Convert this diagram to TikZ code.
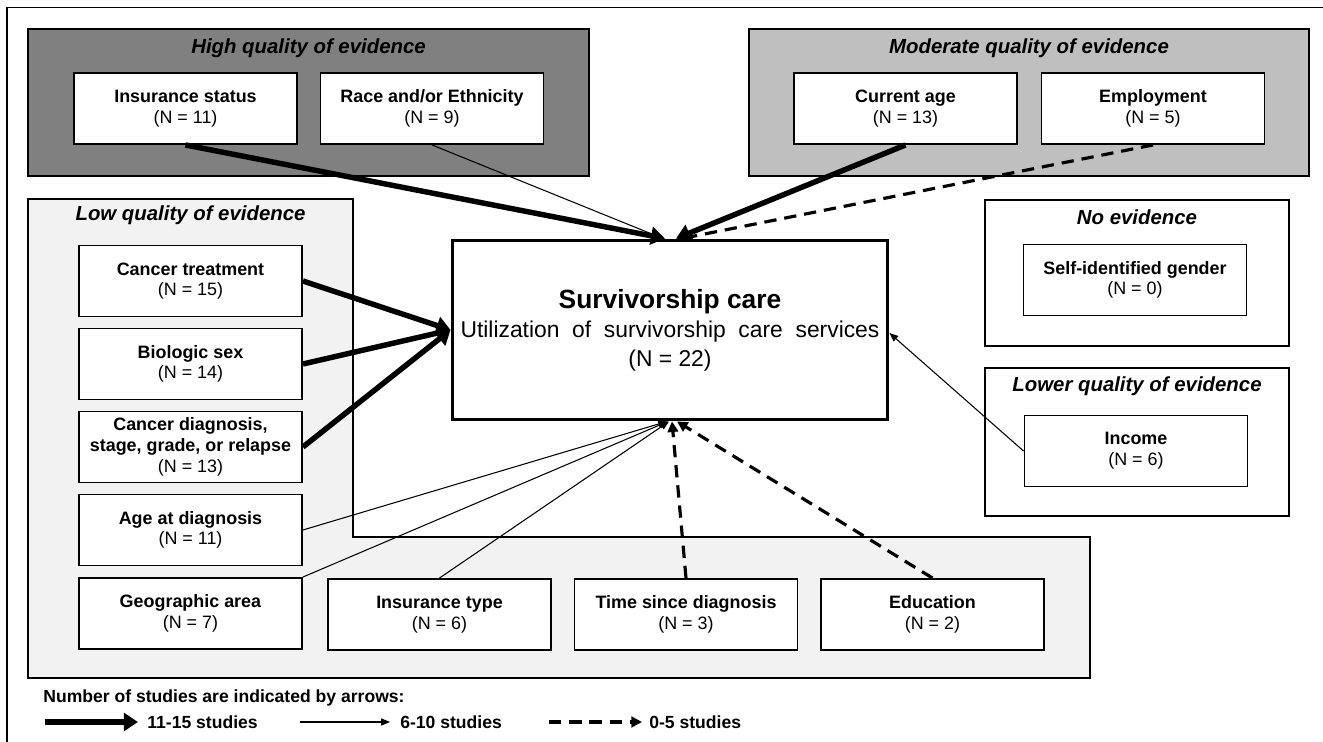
\documentclass[tikz,border=0pt]{standalone}
\usepackage{fontspec}
\setmainfont{Liberation Sans}
\usepackage{tikz}
\usetikzlibrary{arrows.meta}
\definecolor{evid_high}{RGB}{128, 128, 128}
\definecolor{evid_mod}{RGB}{191, 191, 191}
\definecolor{evid_low}{RGB}{242, 242, 242}

\begin{document}
\begin{tikzpicture}[x=0.02cm, y=-0.02cm,
    grp/.style={draw=black, line width=0.9pt},
    gtitle/.style={inner sep=0pt, font=\fontsize{11.6}{13}\selectfont\bfseries\itshape},
    fbox/.style={rectangle, draw, line width=1.1pt, fill=white,
                 minimum width=4.46cm, minimum height=1.42cm,
                 inner sep=1pt, align=center, font=\fontsize{10.2}{11.8}\selectfont},
    carebox/.style={rectangle, draw, line width=1.7pt, fill=white,
                 minimum width=8.72cm, minimum height=3.6cm,
                 align=center, font=\fontsize{13}{16.5}\selectfont},
    lgtext/.style={inner sep=0pt, anchor=west, font=\fontsize{10}{12}\selectfont\bfseries},
    arrthick/.style={-{Triangle[length=8pt,width=10pt]}, line width=3.1pt},
    arrthin/.style={-{Triangle[length=5pt,width=4pt]}, line width=0.6pt},
    arrdash/.style={-{Triangle[length=6pt,width=6pt]}, line width=1.8pt,
                 dash pattern=on 7pt off 4.5pt},
  ]
  \useasboundingbox (0,0) rectangle (1323,742);
  \draw[line width=0.7pt] (1323,7.5) -- (7,7.5) -- (7,742);

  % evidence groups
  \draw[grp, fill=evid_high] (28,29) rectangle (589,176);
  \node[gtitle] (thigh) at (308.5,48) {High quality of evidence};
  \draw[grp, fill=evid_mod] (749,29) rectangle (1309,176);
  \node[gtitle] (tmod) at (1029,48) {Moderate quality of evidence};
  \draw[grp, fill=evid_low] (28,199) -- (353,199) -- (353,537) -- (1090,537)
    -- (1090,678) -- (28,678) -- cycle;
  \node[gtitle] (tlow) at (190.5,215) {Low quality of evidence};
  \draw[grp, fill=white] (985,200) rectangle (1289,346);
  \node[gtitle] (tnone) at (1137,217) {No evidence};
  \draw[grp, fill=white] (985,368) rectangle (1289,516);
  \node[gtitle] (tlower) at (1137,386) {Lower quality of evidence};

  % outcome
  \node[carebox] (care) at (670,330)
    {{\fontsize{15}{18}\selectfont\bfseries Survivorship care}\\
     Utilization\ \ of\ \ survivorship\ \ care\ \ services\\(N = 22)};

  % factors
  \node[fbox] (insst) at (185.5,108.5) {\textbf{Insurance status}\\(N = 11)};
  \node[fbox] (race) at (432,108.5) {\textbf{Race and/or Ethnicity}\\(N = 9)};
  \node[fbox] (curage) at (905.5,108.5) {\textbf{Current age}\\(N = 13)};
  \node[fbox] (employ) at (1153,108.5) {\textbf{Employment}\\(N = 5)};

  \node[fbox] (ctreat) at (190.5,281) {\textbf{Cancer treatment}\\(N = 15)};
  \node[fbox] (bsex) at (190.5,364) {\textbf{Biologic sex}\\(N = 14)};
  \node[fbox] (cdiag) at (190.5,447)
    {\textbf{Cancer diagnosis,}\\\textbf{stage, grade, or relapse}\\(N = 13)};
  \node[fbox] (adiag) at (190.5,530) {\textbf{Age at diagnosis}\\(N = 11)};
  \node[fbox] (geo) at (190.5,613.5) {\textbf{Geographic area}\\(N = 7)};
  \node[fbox] (instype) at (439.5,614.5) {\textbf{Insurance type}\\(N = 6)};
  \node[fbox] (tsd) at (686,614.5) {\textbf{Time since diagnosis}\\(N = 3)};
  \node[fbox] (edu) at (932.5,614.5) {\textbf{Education}\\(N = 2)};

  \node[fbox] (gender) at (1135,280) {\textbf{Self-identified gender}\\(N = 0)};
  \node[fbox] (income) at (1136,451) {\textbf{Income}\\(N = 6)};

  % connectors
  \draw[arrthick] (insst.south) -- ([xshift=-0.1cm]care.north);
  \draw[arrthin] (race.south) -- ([xshift=-0.14cm]care.north);
  \draw[arrthick] (curage.south) -- ([xshift=0.12cm]care.north);
  \draw[arrdash] (employ.south) -- ([xshift=0.24cm]care.north);

  \draw[arrthick] (ctreat.east) -- (care.west);
  \draw[arrthick] (bsex.east) -- (care.west);
  \draw[arrthick] (cdiag.east) -- (care.west);

  \draw[arrthin] (adiag.east) -- ([xshift=-0.06cm]care.south);
  \draw[arrthin] (geo.north east) -- ([xshift=-0.04cm]care.south);
  \draw[arrthin] (instype.north) -- ([xshift=-0.02cm]care.south);
  \draw[arrdash] (tsd.north) -- ([xshift=0.04cm]care.south);
  \draw[arrdash] (edu.north) -- ([xshift=0.14cm]care.south);

  \draw[arrthin] (income.west) -- ([yshift=-0.06cm]care.east);

  % legend
  \node[lgtext] (lgnote) at (43,698) {Number of studies are indicated by arrows:};
  \coordinate (k1a) at (45,722);
  \coordinate (k1b) at (138,722);
  \draw[arrthick, line width=3.4pt] (k1a) -- (k1b);
  \node[lgtext] (k1) at (147,722) {11-15 studies};
  \coordinate (k2a) at (300,722);
  \coordinate (k2b) at (390,722);
  \draw[arrthin] (k2a) -- (k2b);
  \node[lgtext] (k2) at (400,722) {6-10 studies};
  \coordinate (k3a) at (549,722);
  \coordinate (k3b) at (642,722);
  \draw[arrdash] (k3a) -- (k3b);
  \node[lgtext] (k3) at (649,722) {0-5 studies};
\end{tikzpicture}
\end{document}
